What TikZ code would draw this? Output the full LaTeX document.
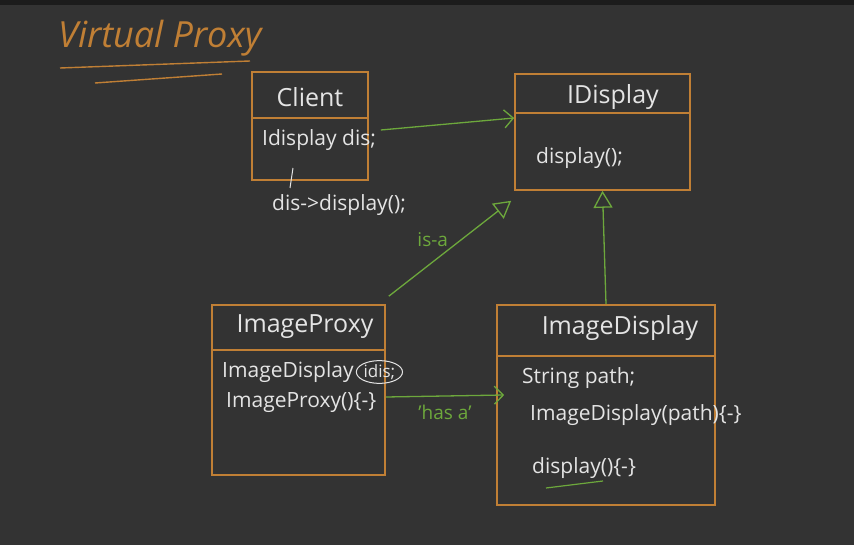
\documentclass[tikz,border=0pt]{standalone}
\usepackage{fontspec}
\setmainfont{Open Sans}
\usetikzlibrary{arrows.meta,shapes.geometric}
\definecolor{board}{HTML}{333333}
\definecolor{boardtop}{HTML}{1C1C1C}
\definecolor{chalkorange}{HTML}{C07F35}
\definecolor{chalkgreen}{HTML}{6DA83C}
\definecolor{chalkwhite}{HTML}{E4E4E4}
\begin{document}
\begin{tikzpicture}[
  x=1pt, y=-1pt,
  cls/.style={draw=chalkorange, line width=1.6pt, minimum width=#1},
  cls/.default=100pt,
  sep/.style={draw=chalkorange, line width=1.6pt},
  txt/.style={text=chalkwhite, font=\fontsize{21}{24}\selectfont, inner sep=0pt, anchor=west},
  ttl/.style={text=chalkwhite, font=\fontsize{25}{28}\selectfont, inner sep=0pt},
  assoc/.style={draw=chalkgreen, line width=1.3pt, -{Straight Barb[length=9pt,width=18pt]}},
  isa/.style={draw=chalkgreen, line width=1.3pt, -{Triangle[open,length=17pt,width=19pt]}},
  lbl/.style={text=chalkgreen, font=\fontsize{19}{22}\selectfont}
]
  \fill[board] (0,0) rectangle (854,545);
  \fill[boardtop] (0,0) rectangle (854,5);
  \useasboundingbox (0,0) rectangle (854,545);

  % heading
  \node[text=chalkorange, font=\fontsize{36}{40}\selectfont\itshape, anchor=west, inner sep=0pt]
    (heading) at (58,38) {Virtual Proxy};
  \draw[chalkorange, line width=1.4pt] (60,68) -- (250,61);
  \draw[chalkorange, line width=1.4pt] (95,83) -- (222,74);

  % classes
  \node[cls=116pt, minimum height=108pt] (client)   at (310,126)   {};
  \node[cls=175pt, minimum height=116pt] (idisplay) at (602.5,132) {};
  \node[cls=173pt, minimum height=170pt] (proxy)    at (298.5,390) {};
  \node[cls=218pt, minimum height=200pt] (imgdisp)  at (606,405)   {};

  \draw[sep] (client.west |- 0,118)   -- (client.east |- 0,118);
  \draw[sep] (idisplay.west |- 0,113) -- (idisplay.east |- 0,113);
  \draw[sep] (proxy.west |- 0,350)    -- (proxy.east |- 0,350);
  \draw[sep] (imgdisp.west |- 0,356)  -- (imgdisp.east |- 0,356);

  % Client
  \node[ttl] (clientname) at (310,97) {Client};
  \node[txt] (clientdis) at (262,140) {Idisplay dis;};
  \node[txt] (clientcall) at (272,205) {dis->display();};
  \draw[chalkwhite, line width=1pt] (293,168) -- (290,188);

  % IDisplay
  \node[ttl] (idispname) at (613,97) {IDisplay};
  \node[txt] (idispop) at (536,158) {display();};

  % ImageProxy
  \node[ttl] (proxyname) at (305,327) {ImageProxy};
  \node[txt] (proxyfield) at (222,372) {ImageDisplay};
  \node[ellipse, draw=chalkwhite, line width=1pt, inner sep=0.5pt, text=chalkwhite,
        font=\fontsize{17}{20}\selectfont, anchor=west]
    (proxyidis) at ([xshift=2pt]proxyfield.east) {idis;};
  \node[txt] (proxyctor) at (226,403) {ImageProxy()\{-\}};

  % ImageDisplay
  \node[ttl] (imgdispname) at (620,328) {ImageDisplay};
  \node[txt] (imgpath) at (522,378) {String path;};
  \node[txt] (imgctor) at (530,415) {ImageDisplay(path)\{-\}};
  \node[txt] (imgop)   at (532,468) {display()\{-\}};
  \draw[chalkgreen, line width=1.2pt] (546,488) -- (603,481);

  % relations
  \draw[assoc] ([shift={(12,4)}]client.east) -- (idisplay.west |- 0,118);
  \draw[isa] ([shift={(3,-8)}]proxy.north east) -- ([shift={(-3,10)}]idisplay.south west)
    node[lbl, midway, above left=-2pt] {is-a};
  \draw[isa] (imgdisp.north) -- (idisplay.south);
  \draw[assoc] (proxy.east |- 0,397) -- ([xshift=8pt]imgdisp.west |- 0,395)
    node[lbl, midway, below=5pt] {'has a'};
\end{tikzpicture}
\end{document}
